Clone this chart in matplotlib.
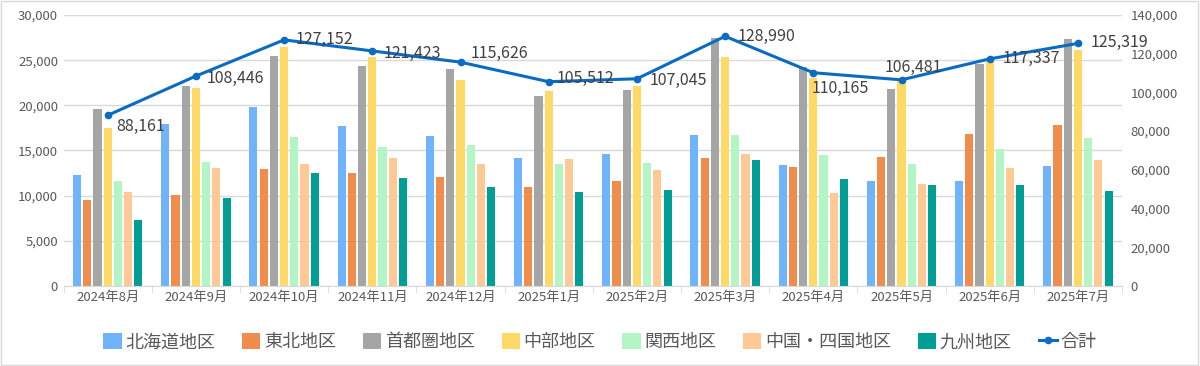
import numpy as np
import matplotlib
matplotlib.use("Agg")
import matplotlib.pyplot as plt
from matplotlib.lines import Line2D
from matplotlib.patches import Patch, Rectangle

plt.rcParams['font.family'] = ['Noto Sans CJK JP', 'DejaVu Sans']

months = ['2024年8月', '2024年9月', '2024年10月', '2024年11月', '2024年12月', '2025年1月',
          '2025年2月', '2025年3月', '2025年4月', '2025年5月', '2025年6月', '2025年7月']
regions = ['北海道地区', '東北地区', '首都圏地区', '中部地区', '関西地区', '中国・四国地区', '九州地区']

hokkaido = [12300, 17900, 19850, 17700, 16550, 14150, 14600, 16750, 13350, 11600, 11600, 13250]
tohoku = [9550, 10050, 12950, 12450, 12100, 10900, 11650, 14200, 13150, 14300, 16800, 17850]
shutoken = [19550, 22100, 25500, 24400, 24050, 21050, 21700, 27500, 24250, 21750, 24600, 27300]
chubu = [17450, 21900, 26450, 25300, 22850, 21600, 22100, 25300, 23000, 22850, 25100, 26150]
kansai = [11600, 13700, 16500, 15350, 15650, 13550, 13650, 16700, 14500, 13550, 15150, 16400]
chugoku = [10400, 13100, 13550, 14200, 13500, 14000, 12800, 14650, 10250, 11300, 13050, 13900]
kyushu = [7250, 9750, 12450, 11900, 10950, 10350, 10650, 13900, 11850, 11200, 11200, 10550]
totals = [88161, 108446, 127152, 121423, 115626, 105512, 107045, 128990, 110165, 106481, 117337, 125319]

series = [hokkaido, tohoku, shutoken, chubu, kansai, chugoku, kyushu]
colors = ['#6fb4fb', '#f08c4c', '#a5a5a5', '#ffd966', '#b3f5c4', '#ffc996', '#009e94']
line_color = '#0a6bc2'
text_gray = '#595959'

# label offsets (points) for the total line, roughly where Excel put them
label_off = [(6, -8), (8, -2), (8, 0), (8, -2), (7, 6), (6, 2), (9, -1), (9, 0),
             (-1, -11), (-12, 9), (9, 0), (9, 1)]

fig = plt.figure(figsize=(12, 3.66), dpi=100)
fig.patches.append(Rectangle((0.001, 0.002), 0.997, 0.995, transform=fig.transFigure,
                             fill=False, edgecolor='#d9d9d9', linewidth=1))
ax = fig.add_axes([0.053, 0.219, 0.882, 0.740])
x = np.arange(len(months))
step = 0.116
for i, (vals, c) in enumerate(zip(series, colors)):
    ax.bar(x + (i - 3) * step, vals, width=step * 0.8, color=c, zorder=2)

ax.set_xlim(-0.5, len(months) - 0.5)
ax.set_ylim(0, 30000)
ax.set_yticks(np.arange(0, 30001, 5000))
ax.set_yticklabels([f'{v:,}' for v in range(0, 30001, 5000)], fontsize=9.5, color=text_gray)
ax.yaxis.grid(True, color='#d9d9d9', linewidth=1, zorder=0)
ax.set_axisbelow(True)
for s in ['top', 'left', 'right']:
    ax.spines[s].set_visible(False)
ax.spines['bottom'].set_color('#d9d9d9')
ax.tick_params(axis='y', length=0, pad=4)
ax.set_xticks(x)
ax.set_xticklabels(months, fontsize=9.5, color=text_gray)
ax.tick_params(axis='x', length=0, pad=4)
ax.set_xticks(np.arange(-0.5, len(months), 1), minor=True)
ax.tick_params(axis='x', which='minor', length=5, color='#d9d9d9')

ax2 = ax.twinx()
ax2.set_ylim(0, 140000)
ax2.set_yticks(np.arange(0, 140001, 20000))
ax2.set_yticklabels([f'{v:,}' for v in range(0, 140001, 20000)], fontsize=9.5, color=text_gray)
ax2.tick_params(axis='y', length=0, pad=6)
for s in ['top', 'left', 'right', 'bottom']:
    ax2.spines[s].set_visible(False)
ax2.plot(x, totals, color=line_color, linewidth=2.2, marker='o', markersize=4.5, zorder=5)
for xi, t, off in zip(x, totals, label_off):
    ax2.annotate(f'{t:,}', (xi, t), xytext=off, textcoords='offset points',
                 ha='left', va='center', fontsize=11.5, color='#404040', zorder=6)

handles = [Patch(facecolor=c) for c in colors]
handles.append(Line2D([0], [0], color=line_color, linewidth=2.2, marker='o', markersize=4.5))
fig.legend(handles, regions + ['合計'], loc='center', bbox_to_anchor=(0.5, 0.065), ncol=8,
           frameon=False, fontsize=13, handlelength=1.0, handleheight=1.0,
           handletextpad=0.2, columnspacing=1.5, labelcolor=text_gray)

fig.savefig('out.png', dpi=100)
